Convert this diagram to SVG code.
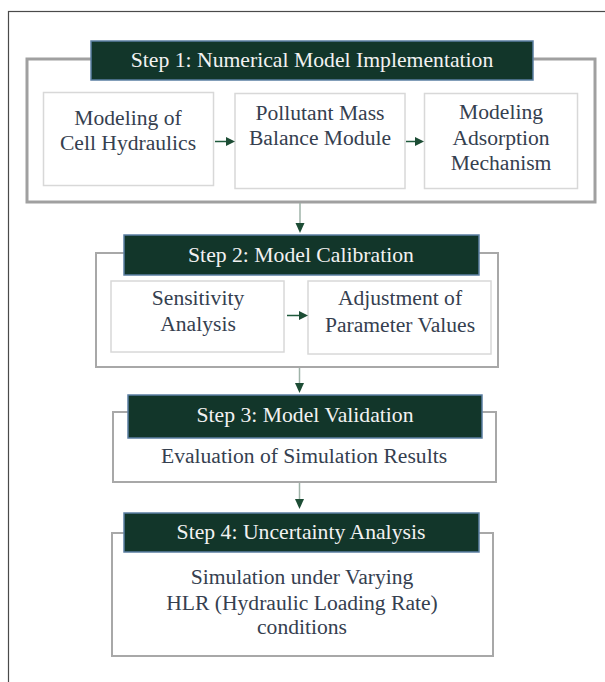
<svg xmlns="http://www.w3.org/2000/svg" width="605" height="682" viewBox="0 0 605 682">
<defs>
<style>
.frame{fill:#fff;stroke:#4a4a4a;stroke-width:1.2}
.outer{fill:#fff;stroke:#a8a8a8;stroke-width:2}
.outer1{fill:#fff;stroke:#a0a0a0;stroke-width:3}
.sub{fill:#fff;stroke:#d8d8d8;stroke-width:1.5}
.hdr{fill:#12362a;stroke:#5b7fa3;stroke-width:1.5}
text{font-family:'Liberation Serif','Times New Roman','DejaVu Serif',serif}
.ht{font-size:21.7px;fill:#f2f2f2;text-anchor:middle}
.bt{font-size:21.6px;fill:#35404f;text-anchor:middle}
.ln{stroke:#1f5a3c;stroke-width:1.5;fill:none}
.vln{stroke:#9fb3a8;stroke-width:1.5;fill:none}
.ah{fill:#1d4d35}
</style>
</defs>
<rect class="frame" x="8.5" y="11.5" width="620" height="700"/>

<g id="step1">
<rect class="outer1" x="27" y="59" width="568" height="143"/>
<rect class="hdr" x="91" y="41" width="442" height="39"/>
<text class="ht" x="312" y="67">Step 1: Numerical Model Implementation</text>
</g>
<g id="hydraulics">
<rect class="sub" x="43.5" y="92.5" width="170" height="93"/>
<text class="bt" x="128" y="125">Modeling of</text>
<text class="bt" x="128" y="150">Cell Hydraulics</text>
</g>
<g id="massbalance">
<rect class="sub" x="235" y="93.5" width="170" height="95"/>
<text class="bt" x="320" y="120">Pollutant Mass</text>
<text class="bt" x="320" y="145">Balance Module</text>
</g>
<g id="adsorption">
<rect class="sub" x="424.5" y="93.5" width="153" height="95"/>
<text class="bt" x="501" y="119">Modeling</text>
<text class="bt" x="501" y="145">Adsorption</text>
<text class="bt" x="501" y="170">Mechanism</text>
</g>

<g id="step2">
<rect class="outer" x="96" y="253" width="402" height="114"/>
<rect class="hdr" x="124" y="235" width="355" height="40"/>
<text class="ht" x="301" y="262">Step 2: Model Calibration</text>
</g>
<g id="sensitivity">
<rect class="sub" x="111" y="281" width="173" height="71"/>
<text class="bt" x="198" y="305">Sensitivity</text>
<text class="bt" x="198" y="331">Analysis</text>
</g>
<g id="adjustment">
<rect class="sub" x="308" y="281" width="183" height="73"/>
<text class="bt" x="400" y="305">Adjustment of</text>
<text class="bt" x="400" y="332">Parameter Values</text>
</g>

<g id="step3">
<rect class="outer" x="113" y="412" width="383" height="70"/>
<rect class="hdr" x="128" y="395" width="354" height="43"/>
<text class="ht" x="305" y="422">Step 3: Model Validation</text>
<text class="bt" x="304" y="463">Evaluation of Simulation Results</text>
</g>

<g id="step4">
<rect class="outer" x="112" y="533" width="381" height="123"/>
<rect class="hdr" x="124" y="513" width="355" height="39"/>
<text class="ht" x="301" y="539">Step 4: Uncertainty Analysis</text>
<text class="bt" x="302" y="584">Simulation under Varying</text>
<text class="bt" x="302" y="610">HLR (Hydraulic Loading Rate)</text>
<text class="bt" x="302" y="634">conditions</text>
</g>

<g id="connectors">
<line class="ln" x1="215" y1="141.5" x2="227" y2="141.5"/>
<polygon class="ah" points="226,137 235,141.5 226,146"/>
<line class="ln" x1="406" y1="141.5" x2="416" y2="141.5"/>
<polygon class="ah" points="415,137 424,141.5 415,146"/>
<line class="ln" x1="287" y1="315.5" x2="300" y2="315.5"/>
<polygon class="ah" points="299,311 308,315.5 299,320"/>
<line class="vln" x1="300" y1="203" x2="300" y2="224"/>
<polygon class="ah" points="295.5,223 304.5,223 300,233"/>
<line class="vln" x1="299.5" y1="368" x2="299.5" y2="384"/>
<polygon class="ah" points="295,383 304,383 299.5,393"/>
<line class="vln" x1="299.5" y1="483" x2="299.5" y2="500"/>
<polygon class="ah" points="295,499 304,499 299.5,509"/>
</g>
</svg>
